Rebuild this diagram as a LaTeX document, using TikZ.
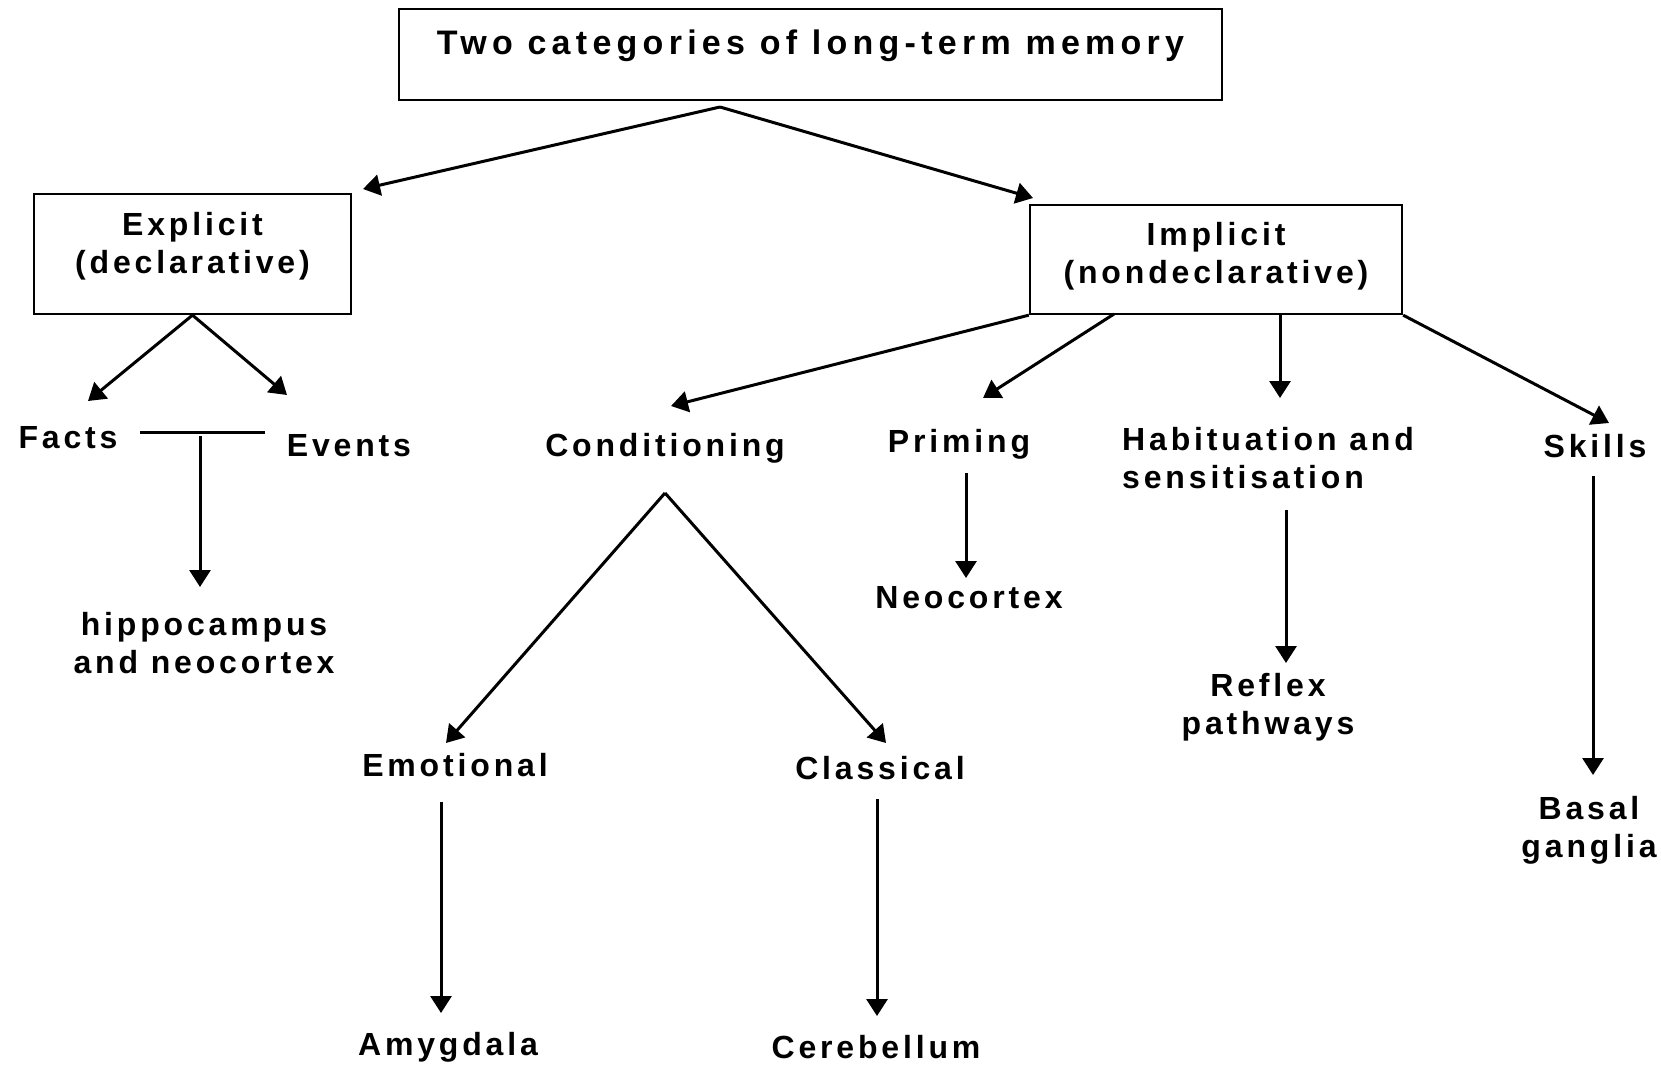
\documentclass[tikz,border=0pt]{standalone}
\usepackage{fontspec}
\newfontfamily\labfont[LetterSpace=12]{Liberation Sans}
\newfontfamily\titfont[LetterSpace=15.5]{Liberation Sans}
\usetikzlibrary{arrows.meta}
\newcommand\mlinesc[1]{\begin{tabular}[t]{@{}c@{}}#1\end{tabular}}
\newcommand\mlinesl[1]{\begin{tabular}[t]{@{}l@{}}#1\end{tabular}}
\begin{document}
\begin{tikzpicture}[x=1pt,y=-1pt,
  lab/.style={font=\labfont\bfseries\fontsize{32}{38}\selectfont, inner sep=0pt, anchor=base},
  box/.style={draw, line width=2.3pt, inner sep=0pt, anchor=center,
              font=\labfont\bfseries\fontsize{32}{38}\selectfont},
  arr/.style={line width=3pt, -{Triangle[length=17pt,width=21pt]}},
  ln/.style={line width=3pt}]
\useasboundingbox (0,0) rectangle (1661,1065);

% boxes
\node[box, minimum width=823pt, minimum height=91pt, text height=20pt, text depth=20pt,
      font=\titfont\bfseries\fontsize{34}{38}\selectfont]
  (title) at (810.5,54.5) {Two categories of long-term memory};
\node[box, minimum width=317pt, minimum height=120pt, text height=20pt, text depth=58pt]
  (explicit) at (192.5,254) {\mlinesc{Explicit\\(declarative)}};
\node[box, minimum width=372pt, minimum height=109pt, text height=20pt, text depth=49pt]
  (implicit) at (1216,259.5) {\mlinesc{Implicit\\(nondeclarative)}};

% labels
\node[lab] (facts) at (68,448) {Facts};
\node[lab] (events) at (349,456) {Events};
\node[lab] (hippo) at (204,635) {\mlinesc{hippocampus\\and neocortex}};
\node[lab] (cond) at (665,456) {Conditioning};
\node[lab] (priming) at (959,452) {Priming};
\node[lab] (neo) at (969,608) {Neocortex};
\node[lab, anchor=base west] (habit) at (1122,450) {\mlinesl{Habituation and\\sensitisation}};
\node[lab] (reflex) at (1268,696) {\mlinesc{Reflex\\pathways}};
\node[lab] (skills) at (1595,457) {Skills};
\node[lab] (basal) at (1589,819) {\mlinesc{Basal\\ganglia}};
\node[lab] (emo) at (455,776) {Emotional};
\node[lab] (amyg) at (448,1055) {Amygdala};
\node[lab] (class) at (880,779) {Classical};
\node[lab] (cereb) at (876,1058) {Cerebellum};

% connector points
\coordinate (tsplit) at (720,107);
\coordinate (toexp) at (363,189);
\coordinate (toimp) at (1033,198);
\coordinate (tofacts) at (88,401);
\coordinate (toevents) at (287,395);
\coordinate (barl) at (140,432);
\coordinate (barr) at (265,432);
\coordinate (bardown) at (200,436);
\coordinate (tohippo) at (200,587);
\coordinate (ipri) at (1114,314);
\coordinate (ihab) at (1280,314);
\coordinate (tocond) at (671,406);
\coordinate (topri) at (983,398);
\coordinate (tohab) at (1280,398);
\coordinate (toskills) at (1609,423);
\coordinate (capex) at (665,493);
\coordinate (toemo) at (446,743);
\coordinate (toclass) at (886,743);
\coordinate (prid) at (966,473);
\coordinate (toneo) at (966,578);
\coordinate (habd) at (1286,510);
\coordinate (toreflex) at (1286,663);
\coordinate (skd) at (1593,476);
\coordinate (tobasal) at (1593,775);
\coordinate (emod) at (441,802);
\coordinate (toamyg) at (441,1013);
\coordinate (classd) at (877,799);
\coordinate (tocereb) at (877,1016);

% connectors
\draw[arr] (tsplit) -- (toexp);
\draw[arr] (tsplit) -- (toimp);
\draw[arr] (explicit.south) -- (tofacts);
\draw[arr] (explicit.south) -- (toevents);
\draw[ln] (barl) -- (barr);
\draw[arr] (bardown) -- (tohippo);
\draw[arr] (implicit.south west) -- (tocond);
\draw[arr] (ipri) -- (topri);
\draw[arr] (ihab) -- (tohab);
\draw[arr] (implicit.south east) -- (toskills);
\draw[arr] (capex) -- (toemo);
\draw[arr] (capex) -- (toclass);
\draw[arr] (prid) -- (toneo);
\draw[arr] (habd) -- (toreflex);
\draw[arr] (skd) -- (tobasal);
\draw[arr] (emod) -- (toamyg);
\draw[arr] (classd) -- (tocereb);
\end{tikzpicture}
\end{document}
